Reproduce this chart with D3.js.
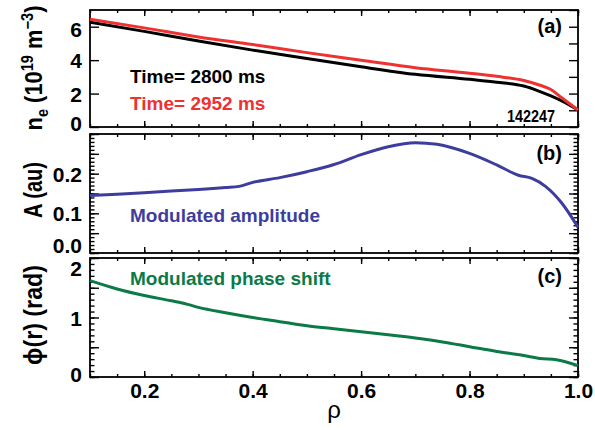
<!DOCTYPE html>
<html>
<head>
<meta charset="utf-8">
<script src="https://cdn.jsdelivr.net/npm/d3@7"></script>
<style>
  body { margin: 0; background: #fff; }
  text { font-family: "Liberation Sans", Arial, sans-serif; font-weight: bold; }
</style>
</head>
<body>
<svg id="chart" width="595" height="430"></svg>
<script>
// density profiles (panel a)
var rhoDensity = [0.1, 0.2, 0.3, 0.4, 0.5, 0.6, 0.7, 0.8, 0.85, 0.9, 0.93, 0.95, 0.97, 1.0];
var ne2800 = [6.27, 5.72, 5.14, 4.6, 4.1, 3.6, 3.15, 2.85, 2.68, 2.45, 2.12, 1.86, 1.56, 1.02];
var ne2952 = [6.45, 5.93, 5.39, 4.93, 4.45, 4.0, 3.55, 3.22, 3.03, 2.78, 2.5, 2.24, 1.75, 1.02];

// modulated amplitude (panel b)
var rhoAmp = [0.1, 0.15, 0.2, 0.25, 0.3, 0.35, 0.375, 0.4, 0.45, 0.5, 0.55, 0.6, 0.65, 0.7, 0.74, 0.8, 0.85, 0.89, 0.915, 0.94, 0.97, 1.0];
var amplitude = [0.145, 0.148, 0.152, 0.156, 0.16, 0.165, 0.168, 0.178, 0.19, 0.205, 0.223, 0.248, 0.268, 0.278, 0.274, 0.251, 0.222, 0.196, 0.188, 0.168, 0.126, 0.065];

// modulated phase shift (panel c)
var rhoPhase = [0.1, 0.15, 0.2, 0.25, 0.28, 0.3, 0.35, 0.4, 0.45, 0.5, 0.55, 0.6, 0.65, 0.7, 0.75, 0.8, 0.85, 0.9, 0.93, 0.96, 1.0];
var phase = [1.62, 1.48, 1.37, 1.28, 1.22, 1.17, 1.08, 1.0, 0.93, 0.86, 0.81, 0.76, 0.71, 0.655, 0.59, 0.51, 0.43, 0.36, 0.31, 0.29, 0.19];

var xMajor = [0.2, 0.4, 0.6, 0.8, 1.0];
var labelTimes = ["Time= 2800 ms", "Time= 2952 ms"];

const RED = "#ee3131";
const BLUE = "#3d3d9e";
const GREEN = "#0b7a46";

var svg = d3.select("#chart");

var left = 90, right = 578;
var x = d3.scaleLinear().domain([0.1, 1.0]).range([left, right]);

var panels = [
  { id: "a", top: 10, bottom: 127, domain: [0, 7], labels: [0, 2, 4, 6], fmt: d3.format("d"),
    leftMajor: [0, 2, 4, 6], leftMinor: [], rightMajor: d3.range(0, 8, 1), rightMinor: [],
    nudge: { 0: -4, 6: 2 } },
  { id: "b", top: 134, bottom: 253, domain: [0, 0.3], labels: [0, 0.1, 0.2], fmt: d3.format(".1f"),
    leftMajor: d3.range(0, 0.301, 0.05), leftMinor: d3.range(0, 0.301, 0.01),
    rightMajor: d3.range(0, 0.301, 0.05), rightMinor: d3.range(0, 0.301, 0.01),
    nudge: { 0: -8 } },
  { id: "c", top: 258, bottom: 377, domain: [0, 2], labels: [0, 1, 2], fmt: d3.format("d"),
    leftMajor: d3.range(0, 2.01, 0.5), leftMinor: d3.range(0, 2.01, 0.1),
    rightMajor: d3.range(0, 2.01, 0.5), rightMinor: d3.range(0, 2.01, 0.1),
    nudge: { 0: -3, 2: 10 } },
];

panels.forEach((p) => {
  p.y = d3.scaleLinear().domain(p.domain).range([p.bottom, p.top]);
});

function styleAxis(g) {
  g.select(".domain").remove();
  g.selectAll("line").attr("stroke", "#000").attr("stroke-width", 1.4);
  g.attr("font-family", null).attr("font-size", null);
  g.selectAll("text").attr("fill", "#000").style("font-size", "21px");
}

panels.forEach((p, i) => {
  var g = svg.append("g").attr("id", "panel-" + p.id);

  // x ticks, top and bottom, pointing in
  var xMinor = d3.range(0.1, 1.0001, 0.05);
  g.append("g").attr("transform", `translate(0,${p.bottom})`)
    .call(d3.axisBottom(x).tickValues(xMinor).tickSize(-3).tickFormat("")).call(styleAxis);
  g.append("g").attr("transform", `translate(0,${p.top})`)
    .call(d3.axisTop(x).tickValues(xMinor).tickSize(-3).tickFormat("")).call(styleAxis);
  g.append("g").attr("transform", `translate(0,${p.top})`)
    .call(d3.axisTop(x).tickValues(xMajor).tickSize(-6).tickFormat("")).call(styleAxis);
  g.append("g").attr("transform", `translate(0,${p.bottom})`)
    .call(d3.axisBottom(x).tickValues(xMajor).tickSize(-6).tickPadding(6)
      .tickFormat(i === panels.length - 1 ? d3.format(".1f") : ""))
    .call(styleAxis);

  // y ticks
  if (p.leftMinor.length) {
    g.append("g").attr("transform", `translate(${left},0)`)
      .call(d3.axisLeft(p.y).tickValues(p.leftMinor).tickSize(-4.5).tickFormat("")).call(styleAxis);
    g.append("g").attr("transform", `translate(${right},0)`)
      .call(d3.axisRight(p.y).tickValues(p.rightMinor).tickSize(-4.5).tickFormat("")).call(styleAxis);
  }
  g.append("g").attr("transform", `translate(${left},0)`)
    .call(d3.axisLeft(p.y).tickValues(p.leftMajor).tickSize(-9).tickFormat("")).call(styleAxis);
  g.append("g").attr("transform", `translate(${right},0)`)
    .call(d3.axisRight(p.y).tickValues(p.rightMajor).tickSize(-9).tickFormat("")).call(styleAxis);

  // y labels
  var yl = g.append("g").attr("transform", `translate(${left},0)`)
    .call(d3.axisLeft(p.y).tickValues(p.labels).tickSize(0).tickPadding(8).tickFormat(p.fmt))
    .call(styleAxis);
  yl.selectAll("text").attr("dy", (d) => (p.nudge[d] || 0) + 7.5);

  // frame
  g.append("rect")
    .attr("x", left).attr("y", p.top)
    .attr("width", right - left).attr("height", p.bottom - p.top)
    .attr("fill", "none").attr("stroke", "#000").attr("stroke-width", 1.8);

  p.g = g;
});

var line = (xs, ys, yScale) =>
  d3.line().curve(d3.curveMonotoneX)
    .x((d, i) => x(xs[i])).y((d) => yScale(d))(ys);

function plotLine(p, xs, ys, color) {
  p.g.append("path")
    .attr("d", line(xs, ys, p.y))
    .attr("fill", "none").attr("stroke", color)
    .attr("stroke-width", 3).attr("stroke-linejoin", "round");
}

var pa = panels[0], pb = panels[1], pc = panels[2];
plotLine(pa, rhoDensity, ne2800, "#000");
plotLine(pa, rhoDensity, ne2952, RED);
plotLine(pb, rhoAmp, amplitude, BLUE);
plotLine(pc, rhoPhase, phase, GREEN);

// annotations
pa.g.append("text").attr("x", 130).attr("y", 83).style("font-size", "19px").text(labelTimes[0]);
pa.g.append("text").attr("x", 130).attr("y", 110).style("font-size", "19px").attr("fill", RED).text(labelTimes[1]);
pa.g.append("text").attr("x", 555).attr("y", 122).attr("text-anchor", "end").style("font-size", "16px")
  .attr("textLength", 48).attr("lengthAdjust", "spacingAndGlyphs").text("142247");
pb.g.append("text").attr("x", 130).attr("y", 222).style("font-size", "19px").attr("fill", BLUE).text("Modulated amplitude");
pc.g.append("text").attr("x", 130).attr("y", 285).style("font-size", "19px").attr("fill", GREEN).text("Modulated phase shift");

[["(a)", 33], ["(b)", 160], ["(c)", 283]].forEach(([t, yy]) => {
  svg.append("text").attr("x", 562).attr("y", yy).attr("text-anchor", "end")
    .style("font-size", "20px").text(t);
});

// axis titles
var neTitle = svg.append("text")
  .attr("transform", "translate(42,68) rotate(-90)")
  .attr("text-anchor", "middle").style("font-size", "24px")
  .attr("textLength", 125).attr("lengthAdjust", "spacingAndGlyphs");
neTitle.append("tspan").text("n");
neTitle.append("tspan").attr("dy", 6).style("font-size", "16px").text("e");
neTitle.append("tspan").attr("dy", -6).text(" (10");
neTitle.append("tspan").attr("dy", -9).style("font-size", "16px").text("19");
neTitle.append("tspan").attr("dy", 9).text(" m");
neTitle.append("tspan").attr("dy", -9).style("font-size", "16px").text("\u22123");
neTitle.append("tspan").attr("dy", 9).text(")");

svg.append("text")
  .attr("transform", "translate(42,190) rotate(-90)")
  .attr("text-anchor", "middle").style("font-size", "26px")
  .attr("textLength", 56).attr("lengthAdjust", "spacingAndGlyphs")
  .text("A (au)");

svg.append("text")
  .attr("transform", "translate(42,315) rotate(-90)")
  .attr("text-anchor", "middle").style("font-size", "25px")
  .attr("textLength", 100).attr("lengthAdjust", "spacingAndGlyphs")
  .text("\u03d5(r) (rad)");

svg.append("text")
  .attr("x", (left + right) / 2).attr("y", 418)
  .attr("text-anchor", "middle").style("font-size", "24px").style("font-weight", "normal")
  .text("\u03c1");
</script>
</body>
</html>
